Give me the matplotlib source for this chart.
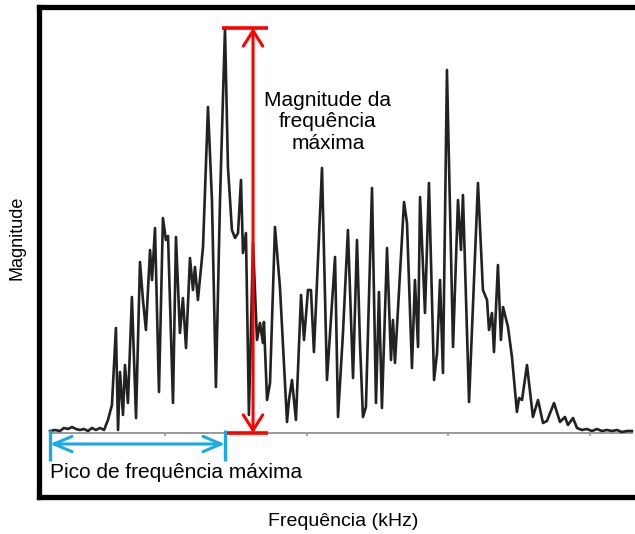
import numpy as np
import matplotlib
matplotlib.use("Agg")
import matplotlib.pyplot as plt

plt.rcParams['font.family'] = ['Liberation Sans', 'DejaVu Sans']

# spectrum (frequency in kHz, magnitude in arbitrary units)
freq = [18.9, 22.4, 25.9, 28.7, 31.6, 34.4, 37.2, 40.0, 42.9, 45.7, 48.5, 51.3,
        54.2, 57.0, 59.8, 62.6, 65.4, 66.9, 68.3, 70.4, 71.8, 73.9, 76.7, 79.6,
        82.4, 84.5, 86.6, 89.5, 90.9, 93.0, 95.8, 98.6, 100.7, 102.2, 105.7, 107.8,
        110.6, 112.7, 114.9, 117.7, 119.8, 121.2, 123.3, 126.9, 130.4, 133.2, 136.0,
        138.9, 142.4, 144.5, 147.3, 149.5, 151.6, 153.7, 155.1, 157.2, 159.3, 162.2,
        165.0, 167.1, 169.2, 169.9, 172.1, 174.2, 177.7, 181.2, 186.2, 187.6, 189.7,
        192.5, 196.1, 198.2, 201.0, 203.1, 205.2, 210.9, 214.4, 220.1, 222.2, 225.7,
        229.2, 232.8, 235.6, 237.7, 239.8, 241.9, 246.2, 249.0, 251.1, 253.2, 256.8,
        259.6, 261.0, 262.4, 268.8, 270.9, 274.4, 276.5, 278.7, 280.1, 283.6, 286.4,
        290.0, 292.1, 294.2, 296.3, 299.1, 303.4, 306.9, 309.0, 310.4, 314.7, 321.0,
        324.5, 327.4, 328.8, 330.9, 332.3, 335.1, 337.2, 338.7, 342.2, 345.0, 348.5,
        350.0, 352.1, 355.6, 359.8, 363.4, 366.9, 369.7, 374.7, 378.9, 382.4, 384.5,
        388.1, 390.9, 394.4, 397.9, 401.5, 405.0, 408.5, 412.1, 415.6, 419.1, 422.6,
        426.2, 429.7]
mag = [2, 3, 2, 5, 4, 6, 4, 3, 4, 2, 5, 3,
       5, 3, 13, 28, 105, 3, 61, 18, 68, 30, 136, 15,
       171, 133, 103, 183, 153, 205, 41, 215, 193, 197, 30, 196,
       100, 135, 85, 175, 143, 166, 133, 186, 326, 233, 46,
       233, 405, 266, 203, 195, 200, 253, 180, 200, 18, 190,
       93, 110, 90, 111, 33, 50, 206, 146, 11, 33, 53,
       13, 138, 93, 143, 143, 81, 265, 53, 176, 16, 100,
       203, 55, 193, 90, 16, 26, 245, 30, 141, 25, 185,
       73, 113, 70, 231, 210, 65, 153, 86, 236, 120, 250,
       53, 80, 153, 60, 363, 86, 233, 183, 238, 31, 250,
       143, 133, 103, 120, 81, 168, 93, 126, 106, 76, 21,
       35, 33, 68, 16, 33, 10, 12, 30, 11, 16, 8,
       15, 5, 3, 4, 2, 4, 2, 3, 2, 3, 1,
       2, 2]
axis_ticks = [100, 200, 300, 400]

freq = np.array(freq)
mag = np.array(mag)
i_max = int(np.argmax(mag))
f_peak = freq[i_max]
m_peak = mag[i_max]

fig = plt.figure(figsize=(6.35, 5.34), dpi=100)
ax = fig.add_axes([0.0614, 0.0693, 0.9465, 0.9176])
ax.set_xlim(11.1, 435.4)
ax.set_ylim(-64, 426)
ax.set_xticks([])
ax.set_yticks([])
for s in ['left', 'top', 'bottom']:
    ax.spines[s].set_linewidth(3.8)
ax.spines['right'].set_visible(False)

# zero line with small ticks
ax.plot([freq[0], freq[-1]], [0, 0], color='#9a9a9a', lw=1.4, zorder=1)
ax.vlines(axis_ticks, -3, 0, color='#9a9a9a', lw=1.2, zorder=1)

ax.plot(freq, mag, color='#222222', lw=1.9, solid_joinstyle='round', zorder=2)

# red marker for the peak magnitude
f_red = 162.2
ax.plot([140.4, 172.8], [m_peak, m_peak], color='red', lw=2.6, solid_capstyle='butt')
ax.plot([143.8, 172.8], [0, 0], color='red', lw=2.6, solid_capstyle='butt', zorder=3)
ax.annotate('', xy=(f_red, m_peak), xytext=(f_red, 0),
            arrowprops=dict(arrowstyle='<->,head_length=1.1,head_width=0.7',
                            color='red', lw=2.2, mutation_scale=10,
                            shrinkA=0, shrinkB=0))
ax.text(215.1, 311, 'Magnitude da\nfrequência\nmáxima', ha='center', va='center',
        fontsize=15, linespacing=1.15)

# blue marker from the start of the spectrum to the peak frequency
blue = '#1aaae3'
ax.annotate('', xy=(f_peak, -11), xytext=(freq[0], -11),
            arrowprops=dict(arrowstyle='<->,head_length=1.3,head_width=0.55',
                            color=blue, lw=2.2, mutation_scale=10,
                            shrinkA=0, shrinkB=0))
ax.vlines([freq[0], f_peak], -28, 3, color=blue, lw=2.4)
ax.text(freq[0], -40, 'Pico de frequência máxima', ha='left', va='center',
        fontsize=15)

fig.text(17 / 635, 1 - 238 / 534, 'Magnitude', rotation=90, ha='center',
         va='center', fontsize=13)
fig.text(343 / 635, 1 - 521 / 534, 'Frequência (kHz)', ha='center',
         va='center', fontsize=14)

fig.savefig('out.png', dpi=100)
